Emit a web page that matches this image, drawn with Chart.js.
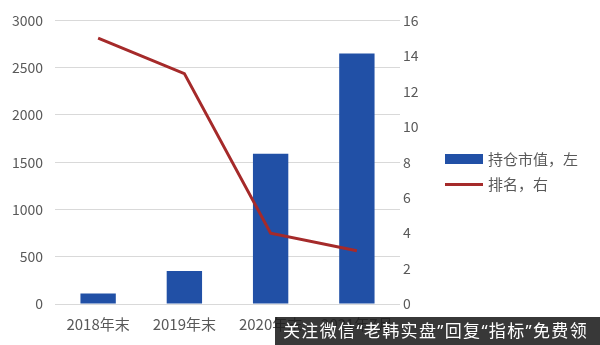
<!DOCTYPE html>
<html><head><meta charset="utf-8">
<script src="https://cdn.jsdelivr.net/npm/chart.js@4"></script>
<style>
html,body{margin:0;padding:0;background:#fff;}
#wrap{position:relative;width:600px;height:345px;overflow:hidden;font-family:"Noto Sans CJK SC","Noto Sans",sans-serif;}
canvas{position:absolute;left:0;top:0;}
.lg{position:absolute;left:445px;font-size:15px;color:#595959;line-height:18px;}
.lg .sw{position:absolute;left:0;}
.lg span{position:absolute;left:43px;top:-9px;white-space:nowrap;}
#banner{position:absolute;left:275px;top:317px;width:325px;height:28px;background:rgba(28,28,28,0.88);color:#fff;font-family:"Noto Sans","Noto Sans CJK SC",sans-serif;font-size:17px;letter-spacing:1.35px;line-height:28px;white-space:nowrap;padding-left:8px;box-sizing:border-box;}
</style></head>
<body><div id="wrap">
<canvas id="c" width="600" height="345"></canvas>
<div class="lg" style="top:159px"><div class="sw" style="top:-5px;width:38px;height:10px;background:#2150a6"></div><span>持仓市值，左</span></div>
<div class="lg" style="top:184px"><div class="sw" style="top:-1.5px;width:38px;height:3px;background:#a52a2a"></div><span>排名，右</span></div>
<div id="banner">关注微信“老韩实盘”回复“指标”免费领</div>
</div>
<script>
const categories = ["2018年末", "2019年末", "2020年末", "2021年7月"];
const holdingValue = [110, 350, 1590, 2650];
const ranking = [15, 13, 4, 3];
const leftTicks = [0, 500, 1000, 1500, 2000, 2500, 3000];
const rightTicks = [0, 2, 4, 6, 8, 10, 12, 14, 16];

const tickColor = "#595959";
const font = {family: '"Noto Sans CJK SC","Noto Sans",sans-serif', size: 14};
const xFont = {family: '"Noto Sans CJK SC","Noto Sans",sans-serif', size: 15};

new Chart(document.getElementById("c"), {
  data: {
    labels: categories,
    datasets: [
      {type: "line", label: "排名，右", data: ranking, yAxisID: "y1", borderColor: "#a52a2a", borderWidth: 3, pointRadius: 0, tension: 0, order: 0},
      {type: "bar", label: "持仓市值，左", data: holdingValue, yAxisID: "y", backgroundColor: "#2150a6", categoryPercentage: 1, barPercentage: 0.41, order: 1}
    ]
  },
  options: {
    responsive: false,
    animation: false,
    layout: {padding: {top: 14, right: 170, left: 0, bottom: 0}},
    plugins: {legend: {display: false}, tooltip: {enabled: false}},
    scales: {
      x: {
        grid: {display: false, drawTicks: false},
        border: {display: false},
        ticks: {color: tickColor, font: xFont, padding: 11, maxRotation: 0, autoSkip: false},
        afterFit: s => { s.height = 41; }
      },
      y: {
        position: "left", min: 0, max: 3000,
        afterBuildTicks: s => { s.ticks = leftTicks.map(v => ({value: v})); },
        grid: {color: "#d9d9d9", drawTicks: false, lineWidth: 1},
        border: {display: false},
        ticks: {color: tickColor, font: font, padding: 12, callback: v => String(v)},
        afterFit: s => { s.width = 55; }
      },
      y1: {
        position: "right", min: 0, max: 16,
        afterBuildTicks: s => { s.ticks = rightTicks.map(v => ({value: v})); },
        grid: {display: false, drawTicks: false},
        border: {display: false},
        ticks: {color: tickColor, font: font, padding: 3, callback: v => String(v)},
        afterFit: s => { s.width = 30; }
      }
    }
  }
});
</script>
</body></html>
